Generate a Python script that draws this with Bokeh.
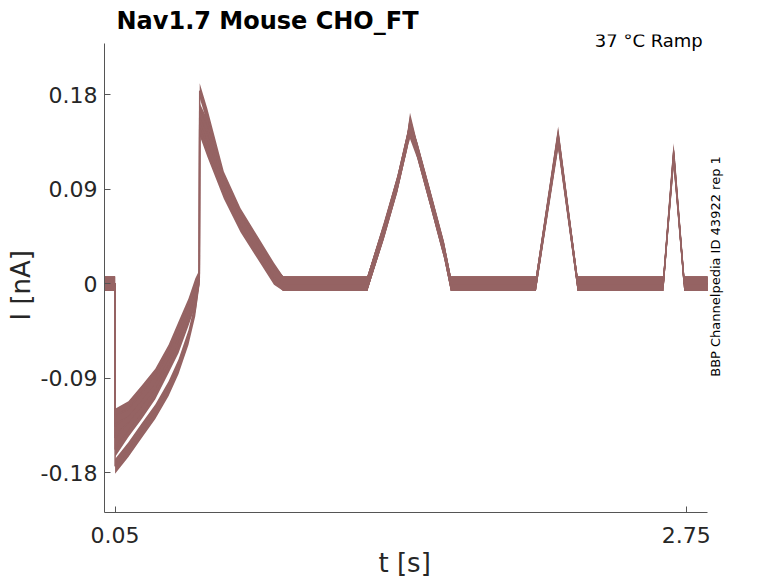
from bokeh.plotting import figure
from bokeh.models import Range1d, FixedTicker, Label, Title, ColumnDataSource
from bokeh.embed import file_html
from bokeh.resources import INLINE

# ---- data (time in s, current in nA) ----
t_knots = [0.0, 0.05, 0.05, 0.113, 0.176, 0.240, 0.303, 0.350, 0.397, 0.429, 0.448,
           0.45, 0.486, 0.564, 0.643, 0.722, 0.801, 0.845,
           1.242, 1.321, 1.384, 1.431, 1.444, 1.479, 1.542, 1.605, 1.637,
           2.039, 2.144, 2.236, 2.641, 2.690, 2.740, 2.85]

sweep_1 = [0.0, 0.0, -0.174, -0.158, -0.140, -0.122, -0.100, -0.079, -0.051, -0.024, 0.004,
           0.184, 0.160, 0.100, 0.065, 0.039, 0.013, 0.0,
           0.0, 0.051, 0.096, 0.137, 0.156, 0.127, 0.080, 0.032, 0.0,
           0.0, 0.143, 0.0, 0.0, 0.127, 0.0, 0.0]
sweep_2 = [0.0, 0.0, -0.158, -0.139, -0.122, -0.103, -0.078, -0.059, -0.033, -0.015, 0.005,
           0.165, 0.150, 0.096, 0.062, 0.037, 0.011, 0.0,
           0.0, 0.050, 0.095, 0.136, 0.153, 0.126, 0.079, 0.031, 0.0,
           0.0, 0.141, 0.0, 0.0, 0.125, 0.0, 0.0]
sweep_3 = [0.0, 0.0, -0.147, -0.132, -0.116, -0.098, -0.074, -0.053, -0.028, -0.010, 0.005,
           0.158, 0.143, 0.093, 0.060, 0.035, 0.010, 0.0,
           0.0, 0.051, 0.095, 0.135, 0.150, 0.127, 0.080, 0.032, 0.0,
           0.0, 0.139, 0.0, 0.0, 0.123, 0.0, 0.0]
sweep_4 = [0.0, 0.0, -0.136, -0.125, -0.110, -0.093, -0.070, -0.048, -0.025, -0.006, 0.006,
           0.152, 0.135, 0.090, 0.058, 0.033, 0.008, 0.0,
           0.0, 0.052, 0.096, 0.137, 0.148, 0.128, 0.081, 0.033, 0.0,
           0.0, 0.137, 0.0, 0.0, 0.121, 0.0, 0.0]
sweep_5 = [0.0, 0.0, -0.126, -0.119, -0.104, -0.088, -0.065, -0.043, -0.021, -0.002, 0.006,
           0.148, 0.128, 0.088, 0.056, 0.031, 0.006, 0.0,
           0.0, 0.050, 0.094, 0.136, 0.145, 0.126, 0.079, 0.031, 0.0,
           0.0, 0.135, 0.0, 0.0, 0.119, 0.0, 0.0]
sweeps = [sweep_1, sweep_2, sweep_3, sweep_4, sweep_5]

noise_halfwidth = 0.007  # amplitude of the recording noise band (nA)

x_bounds = (0.0, 2.85)
y_bounds = (-0.218, 0.229)
x_ticks = [0.05, 2.75]
x_tick_labels = ["0.05", "2.75"]
y_ticks = [-0.18, -0.09, 0.0, 0.09, 0.18]
y_tick_labels = ["-0.18", "-0.09", "0", "0.09", "0.18"]

title_text = "Nav1.7  Mouse  CHO_FT"
condition_text = "37 °C  Ramp"
source_text = "BBP Channelpedia ID 43922 rep 1"
x_label = "t [s]"
y_label = "I [nA]"

# ---- layout / styling ----
TRACE = "#956363"
INK = "#262626"
AXIS = "#555555"
FONT = "DejaVu Sans"

AXES_W, AXES_H = 603, 469        # pixel extent of the drawn axes
EXTRA_TOP, EXTRA_RIGHT = 9, 63   # room inside the frame for the side note / condition text
x_end = x_bounds[1] + (x_bounds[1] - x_bounds[0]) * EXTRA_RIGHT / AXES_W
y_end = y_bounds[1] + (y_bounds[1] - y_bounds[0]) * EXTRA_TOP / AXES_H

p = figure(width=770, height=583, output_backend="svg", toolbar_location=None,
           title=None,
           x_range=Range1d(x_bounds[0], x_end), y_range=Range1d(y_bounds[0], y_end),
           min_border_left=104, min_border_right=0, min_border_top=34, min_border_bottom=71)
p.outline_line_color = None
p.xgrid.visible = False
p.ygrid.visible = False
p.background_fill_color = "white"
p.border_fill_color = "white"

for s in sweeps:
    src = ColumnDataSource(dict(
        t=t_knots, i=s,
        lo=[v - noise_halfwidth for v in s],
        hi=[v + noise_halfwidth for v in s]))
    p.varea(x="t", y1="lo", y2="hi", source=src, fill_color=TRACE, fill_alpha=1.0)
    p.line(x="t", y="i", source=src, line_color=TRACE, line_width=1.5)

for ax, ticks, labels, bnds in ((p.xaxis[0], x_ticks, x_tick_labels, x_bounds),
                                (p.yaxis[0], y_ticks, y_tick_labels, y_bounds)):
    ax.bounds = bnds
    ax.ticker = FixedTicker(ticks=ticks)
    ax.major_label_overrides = {float(k): v for k, v in zip(ticks, labels)}
    ax.major_tick_in = 6
    ax.major_tick_out = 0
    ax.minor_tick_in = 0
    ax.minor_tick_out = 0
    ax.axis_line_color = AXIS
    ax.major_tick_line_color = AXIS
    ax.major_label_text_font = FONT
    ax.major_label_text_font_size = "22px"
    ax.major_label_text_color = INK
p.xaxis.major_label_standoff = 14
p.yaxis.major_label_standoff = 7

# chart title and axis titles as Title objects in the side panels
p.add_layout(Title(text=title_text, align="left", offset=12, standoff=0,
                   text_font=FONT, text_font_size="24px", text_font_style="bold",
                   text_color="black"), "above")
p.add_layout(Title(text=x_label, align="left", offset=274, standoff=5, vertical_align="top",
                   text_font=FONT, text_font_size="26px", text_font_style="normal",
                   text_color=INK), "below")
p.add_layout(Title(text=y_label, align="left", offset=192, standoff=4,
                   text_font=FONT, text_font_size="26px", text_font_style="normal",
                   text_color=INK), "left")

p.add_layout(Label(x=604, y=472, x_units="screen", y_units="screen", text=condition_text,
                   text_font=FONT, text_font_size="18px", text_color="black",
                   text_align="right", text_baseline="alphabetic"))
p.add_layout(Label(x=610.5, y=246, x_units="screen", y_units="screen", text=source_text,
                   angle=90, angle_units="deg",
                   text_font=FONT, text_font_size="13px", text_color="black",
                   text_align="center", text_baseline="middle"))

open("out.html", "w").write(file_html(p, INLINE))
